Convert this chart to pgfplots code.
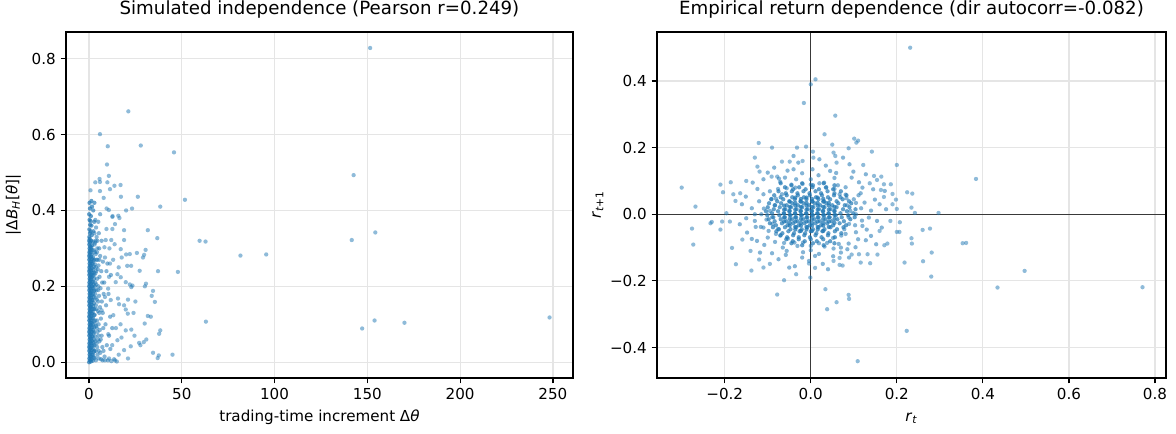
\documentclass[border=0pt]{standalone}
\usepackage{fontspec}
\setmainfont{DejaVu Sans}
\usepackage{pgfplots}
\pgfplotsset{compat=1.18}
\definecolor{c1}{HTML}{1F77B4}
\pgfplotsset{
  common/.style={
    scale only axis, height=249.1pt,
    axis line style={black, line width=0.87pt},
    tick align=outside, major tick length=3.8pt,
    tick style={black, line width=0.87pt},
    xtick pos=bottom, ytick pos=left,
    grid=major, major grid style={color=black!10, line width=0.87pt},
    ticklabel style={font=\fontsize{10.9}{13}\selectfont},
    label style={font=\fontsize{10.9}{13}\selectfont},
    title style={font=\fontsize{13.1}{15}\selectfont, at={(0.5,1.0263)}, anchor=base},
    xlabel style={at={(axis description cs:0.5,-0.1257)}, anchor=base},
    /pgf/number format/assume math mode=true,
  },
  dots/.style={only marks, mark=*, mark size=1.55pt,
    mark options={fill=c1, draw=c1, fill opacity=#1, draw opacity=0, line width=0pt}},
  dots/.default=0.5,
}
\begin{document}
\begin{tikzpicture}
\path[use as bounding box] (0pt,0pt) rectangle (846.72pt,311.76pt);
% ---------------- left panel
\begin{axis}[common, at={(47.52pt,39.6pt)}, anchor=south west, width=365pt,
  xmin=-12.4, xmax=260.8, ymin=-0.0415, ymax=0.870,
  xtick={0,50,100,150,200,250}, xticklabels={0,50,100,150,200,250},
  ytick={0,0.2,0.4,0.6,0.8}, yticklabels={0.0,0.2,0.4,0.6,0.8},
  title={Simulated independence (Pearson r=0.249)},
  xlabel={trading-time increment Δ\textit{θ}},
  ylabel={|Δ\textit{B}\textsubscript{\textit{H}}[\textit{θ}]|},
  ylabel style={at={(axis description cs:-0.096,0.5)}, anchor=base},
]
% dense column 1
\addplot[dots=0.7] coordinates {
(0.1,0.000)(0.4,0.005)(0.2,0.010)(0.5,0.015)(0.3,0.020)(0.6,0.025)(0.15,0.030)(0.45,0.035)
(0.1,0.040)(0.4,0.045)(0.2,0.050)(0.5,0.055)(0.3,0.060)(0.6,0.065)(0.15,0.070)(0.45,0.075)
(0.1,0.080)(0.4,0.085)(0.2,0.090)(0.5,0.095)(0.3,0.100)(0.6,0.105)(0.15,0.110)(0.45,0.115)
(0.1,0.120)(0.4,0.125)(0.2,0.130)(0.5,0.135)(0.3,0.140)(0.6,0.145)(0.15,0.150)(0.45,0.155)
(0.1,0.160)(0.4,0.165)(0.2,0.170)(0.5,0.175)(0.3,0.180)(0.6,0.185)(0.15,0.190)(0.45,0.195)
(0.1,0.200)(0.4,0.205)(0.2,0.210)(0.5,0.215)(0.3,0.220)(0.6,0.225)(0.15,0.230)(0.45,0.235)
(0.1,0.240)(0.4,0.245)(0.2,0.250)(0.5,0.255)(0.3,0.260)(0.6,0.265)(0.15,0.270)(0.45,0.275)
(0.1,0.280)(0.4,0.285)(0.2,0.290)(0.5,0.295)(0.3,0.300)(0.6,0.305)(0.15,0.310)(0.45,0.315)
(0.1,0.320)(0.4,0.325)(0.2,0.330)(0.5,0.340)(0.2,0.350)(0.6,0.362)(0.3,0.375)(0.1,0.390)
(0.5,0.405)(0.3,0.420)(0.8,0.372)(0.9,0.345)
};
% dense column 2
\addplot[dots=0.7] coordinates {
(1.0,0.002)(1.4,0.008)(1.2,0.014)(1.6,0.020)(1.1,0.026)(1.5,0.032)(1.0,0.038)(1.4,0.044)
(1.2,0.050)(1.6,0.056)(1.1,0.062)(1.5,0.068)(1.0,0.074)(1.4,0.080)(1.2,0.086)(1.6,0.092)
(1.1,0.098)(1.5,0.104)(1.0,0.110)(1.4,0.116)(1.2,0.122)(1.6,0.128)(1.1,0.134)(1.5,0.140)
(1.0,0.146)(1.4,0.152)(1.2,0.158)(1.6,0.164)(1.1,0.170)(1.5,0.176)(1.0,0.182)(1.4,0.188)
(1.2,0.194)(1.6,0.200)(1.1,0.206)(1.5,0.212)(1.0,0.218)(1.4,0.224)(1.2,0.230)(1.6,0.236)
(1.1,0.242)(1.5,0.248)(1.0,0.254)(1.4,0.260)(1.2,0.266)(1.6,0.272)(1.1,0.278)(1.5,0.284)
(1.0,0.290)(1.4,0.296)(1.2,0.302)(1.6,0.308)(1.1,0.320)(1.5,0.335)(1.3,0.360)(1.0,0.385)
(1.6,0.410)(1.3,0.425)
};
% dense column 3
\addplot[dots=0.65] coordinates {
(2.0,0.004)(2.5,0.012)(2.2,0.020)(2.7,0.028)(2.0,0.036)(2.5,0.044)(2.2,0.052)(2.7,0.060)
(2.0,0.068)(2.5,0.076)(2.2,0.084)(2.7,0.092)(2.0,0.100)(2.5,0.108)(2.2,0.116)(2.7,0.124)
(2.0,0.132)(2.5,0.140)(2.2,0.148)(2.7,0.156)(2.0,0.164)(2.5,0.172)(2.2,0.180)(2.7,0.188)
(2.0,0.196)(2.5,0.204)(2.2,0.212)(2.7,0.220)(2.0,0.228)(2.5,0.236)(2.2,0.244)(2.7,0.252)
(2.0,0.260)(2.5,0.268)(2.2,0.276)(2.6,0.295)(2.1,0.318)(2.4,0.345)(2.8,0.370)(2.3,0.400)
(2.9,0.420)
};
% x from 3 to 12
\addplot[dots=0.55] coordinates {
(3.2,0.012)(3.6,0.030)(4.1,0.050)(3.4,0.068)(4.6,0.080)(3.8,0.095)(4.3,0.110)(3.1,0.125)
(4.8,0.135)(3.7,0.150)(4.2,0.165)(3.3,0.180)(4.9,0.190)(3.9,0.205)(4.4,0.220)(3.5,0.235)
(4.7,0.245)(3.2,0.258)(4.0,0.270)(3.6,0.285)(4.5,0.300)(3.3,0.315)(4.1,0.330)(3.8,0.355)
(3.4,0.375)(4.6,0.020)(3.0,0.045)(4.8,0.060)(3.5,0.100)(4.9,0.160)(3.1,0.200)(4.6,0.270)
(3.9,0.140)(4.4,0.040)(3.7,0.005)
(2.9,0.030)(3.5,0.055)(2.8,0.080)(3.3,0.110)(2.9,0.140)(3.6,0.170)(2.8,0.190)(3.4,0.210)
(2.9,0.230)(3.7,0.250)(2.8,0.270)(3.2,0.290)(3.0,0.310)(2.9,0.340)(5.2,0.030)(5.5,0.130)
(5.0,0.200)(5.6,0.270)(5.1,0.070)(4.2,0.090)(4.0,0.190)(4.3,0.290)(4.5,0.320)(3.6,0.320)
(3.9,0.240)
(5.3,0.010)(6.1,0.025)(7.2,0.040)(5.6,0.055)(6.8,0.070)(7.7,0.090)(5.2,0.100)(6.4,0.115)
(7.4,0.130)(5.9,0.145)(6.9,0.160)(5.4,0.175)(7.9,0.180)(6.2,0.195)(7.1,0.210)(5.7,0.225)
(6.6,0.240)(5.1,0.255)(7.5,0.265)(6.0,0.280)(5.5,0.300)(6.8,0.320)(5.3,0.340)(7.3,0.005)
(6.5,0.008)(5.8,0.085)(7.8,0.030)(6.3,0.060)(5.0,0.370)(6.0,0.390)
(8.4,0.015)(9.6,0.045)(10.8,0.070)(8.9,0.100)(11.4,0.120)(9.2,0.150)(10.5,0.180)(8.2,0.210)
(11.8,0.230)(9.9,0.260)(8.6,0.005)(10.2,0.005)(11.5,0.035)(9.4,0.240)(12.5,0.090)
};
% mid region and outliers
\addplot[dots] coordinates {
(151.5,0.828)(21.2,0.661)(5.9,0.601)(10.1,0.569)(27.9,0.571)(45.8,0.553)(9.7,0.521)(10.7,0.491)
(142.6,0.493)(0.8,0.453)(3.4,0.474)(5.9,0.475)(5.7,0.483)(9.9,0.474)(13.7,0.465)(17.0,0.467)
(11.3,0.456)(5.9,0.451)(26.3,0.436)(17.2,0.436)(7.9,0.433)(51.7,0.428)(38.4,0.410)(23.2,0.405)
(20.0,0.400)(9.5,0.405)(10.7,0.401)(12.7,0.385)(16.4,0.380)(31.7,0.348)(154.3,0.342)(141.6,0.322)
(59.6,0.320)(62.8,0.318)(36.8,0.327)(81.6,0.281)(95.5,0.284)(47.9,0.238)(37.2,0.240)(34.5,0.188)
(33.8,0.175)(35.5,0.159)(31.7,0.122)(33.3,0.120)(63.0,0.107)(153.9,0.110)(170.0,0.104)(248.2,0.118)
(147.2,0.089)(38.4,0.084)(37.8,0.075)(30.9,0.060)(37.6,0.018)(37.0,0.011)(45.0,0.020)(34.5,0.025)
(29.5,0.053)(27.7,0.045)(30.5,0.296)(29.7,0.283)(29.1,0.276)(25.8,0.288)(22.0,0.285)(27.3,0.241)
(20.6,0.254)(22.0,0.205)(23.4,0.202)(30.7,0.207)(30.1,0.200)
(12.6,0.383)(15.8,0.386)(14.0,0.364)(9.4,0.351)(12.6,0.351)(18.9,0.348)(9.0,0.322)(12.0,0.322)
(18.9,0.322)(13.8,0.311)(17.1,0.298)(20.0,0.284)(17.6,0.276)(8.3,0.303)(8.6,0.276)(11.3,0.260)
(22.7,0.254)(10.8,0.225)(15.3,0.232)(17.1,0.224)(14.4,0.211)(19.8,0.211)(22.8,0.198)(10.3,0.194)
(8.6,0.172)(11.7,0.164)(15.6,0.168)(16.2,0.153)(18.9,0.150)(19.8,0.139)(20.9,0.128)(6.8,0.137)
(13.1,0.124)(30.0,0.102)(19.8,0.084)(22.8,0.086)(10.4,0.074)(15.3,0.058)(18.9,0.032)(22.5,0.042)
(27.0,0.051)(21.0,0.010)(14.0,0.005)(10.8,0.010)(24.5,0.070)(17.0,0.100)(14.5,0.090)(25.0,0.160)
(12.5,0.045)(16.0,0.020)(13.5,0.008)(15.0,0.002)(12.0,0.003)(17.5,0.065)(21.0,0.165)(24.0,0.130)
(13.0,0.270)(16.0,0.250)(11.0,0.300)
};
\end{axis}
% ---------------- right panel
\begin{axis}[common, at={(473.0pt,39.6pt)}, anchor=south west, width=366.5pt,
  xmin=-0.3575, xmax=0.8255, ymin=-0.4915, ymax=0.547,
  xtick={-0.2,0,0.2,0.4,0.6,0.8}, xticklabels={−0.2,0.0,0.2,0.4,0.6,0.8},
  ytick={-0.4,-0.2,0,0.2,0.4}, yticklabels={−0.4,−0.2,0.0,0.2,0.4},
  title={Empirical return dependence (dir autocorr=-0.082)},
  xlabel={\textit{r}\textsubscript{\textit{t}}},
  ylabel={\textit{r}\textsubscript{\textit{t}+1}},
  ylabel style={at={(axis description cs:-0.11,0.5)}, anchor=base},
]
% main lattice of the core
\addplot[dots=0.7] coordinates {
(-0.07,0.093)(-0.045,0.087)(-0.02,0.093)(0.005,0.087)(0.03,0.093)(0.055,0.087)
(-0.06,0.081)(-0.041,0.075)(-0.027,0.081)(-0.012,0.075)(0.004,0.081)(0.019,0.075)(0.036,0.081)(0.052,0.075)
(-0.075,0.069)(-0.058,0.063)(-0.044,0.069)(-0.031,0.063)(-0.017,0.069)(-0.003,0.063)(0.011,0.069)(0.024,0.063)(0.039,0.069)(0.055,0.063)(0.07,0.069)
(-0.085,0.057)(-0.07,0.051)(-0.056,0.057)(-0.043,0.051)(-0.03,0.057)(-0.016,0.051)(-0.002,0.057)(0.012,0.051)(0.026,0.057)(0.04,0.051)(0.054,0.057)(0.069,0.051)(0.083,0.057)
(-0.092,0.045)(-0.078,0.039)(-0.064,0.045)(-0.05,0.039)(-0.037,0.045)(-0.024,0.039)(-0.01,0.045)(0.004,0.039)(0.018,0.045)(0.031,0.039)(0.045,0.045)(0.06,0.039)(0.074,0.045)(0.089,0.039)
(-0.097,0.033)(-0.083,0.027)(-0.069,0.033)(-0.056,0.027)(-0.043,0.033)(-0.03,0.027)(-0.017,0.033)(-0.004,0.027)(0.009,0.033)(0.022,0.027)(0.036,0.033)(0.05,0.027)(0.064,0.033)(0.079,0.027)(0.094,0.033)
(-0.1,0.021)(-0.086,0.015)(-0.072,0.021)(-0.059,0.015)(-0.046,0.021)(-0.033,0.015)(-0.02,0.021)(-0.007,0.015)(0.006,0.021)(0.019,0.015)(0.032,0.021)(0.046,0.015)(0.06,0.021)(0.075,0.015)(0.09,0.021)(0.104,0.015)
(-0.104,0.009)(-0.09,0.003)(-0.076,0.009)(-0.063,0.003)(-0.05,0.009)(-0.037,0.003)(-0.024,0.009)(-0.011,0.003)(0.002,0.009)(0.015,0.003)(0.028,0.009)(0.041,0.003)(0.055,0.009)(0.069,0.003)(0.084,0.009)(0.099,0.003)
(-0.101,-0.003)(-0.087,-0.009)(-0.073,-0.003)(-0.06,-0.009)(-0.047,-0.003)(-0.034,-0.009)(-0.021,-0.003)(-0.008,-0.009)(0.005,-0.003)(0.018,-0.009)(0.031,-0.003)(0.044,-0.009)(0.058,-0.003)(0.072,-0.009)(0.087,-0.003)(0.102,-0.009)
(-0.098,-0.015)(-0.084,-0.021)(-0.07,-0.015)(-0.057,-0.021)(-0.044,-0.015)(-0.031,-0.021)(-0.018,-0.015)(-0.005,-0.021)(0.008,-0.015)(0.021,-0.021)(0.034,-0.015)(0.048,-0.021)(0.062,-0.015)(0.077,-0.021)(0.092,-0.015)
(-0.095,-0.027)(-0.081,-0.033)(-0.067,-0.027)(-0.054,-0.033)(-0.041,-0.027)(-0.028,-0.033)(-0.015,-0.027)(-0.002,-0.033)(0.011,-0.027)(0.024,-0.033)(0.038,-0.027)(0.052,-0.033)(0.067,-0.027)(0.082,-0.033)
(-0.088,-0.039)(-0.074,-0.045)(-0.06,-0.039)(-0.047,-0.045)(-0.034,-0.039)(-0.021,-0.045)(-0.008,-0.039)(0.005,-0.045)(0.018,-0.039)(0.032,-0.045)(0.046,-0.039)(0.061,-0.045)(0.076,-0.039)
(-0.08,-0.051)(-0.066,-0.057)(-0.052,-0.051)(-0.039,-0.057)(-0.026,-0.051)(-0.013,-0.057)(0.0,-0.051)(0.013,-0.057)(0.027,-0.051)(0.041,-0.057)(0.056,-0.051)(0.071,-0.057)
(-0.07,-0.063)(-0.055,-0.069)(-0.041,-0.063)(-0.028,-0.069)(-0.015,-0.063)(-0.002,-0.069)(0.011,-0.063)(0.025,-0.069)(0.04,-0.063)(0.056,-0.069)
(-0.057,-0.075)(-0.042,-0.081)(-0.028,-0.075)(-0.014,-0.081)(0.0,-0.075)(0.014,-0.081)(0.029,-0.075)(0.045,-0.081)
(-0.045,-0.087)(-0.02,-0.093)(0.005,-0.087)(0.03,-0.093)(0.055,-0.087)
};
% inner lattice
\addplot[dots=0.75] coordinates {
(-0.036,0.050)(-0.023,0.046)(-0.010,0.050)(0.003,0.046)(0.016,0.050)(0.029,0.046)
(-0.049,0.038)(-0.036,0.034)(-0.023,0.038)(-0.010,0.034)(0.003,0.038)(0.016,0.034)(0.029,0.038)(0.042,0.034)
(-0.062,0.026)(-0.049,0.022)(-0.036,0.026)(-0.023,0.022)(-0.010,0.026)(0.003,0.022)(0.016,0.026)(0.029,0.022)(0.042,0.026)(0.055,0.022)
(-0.062,0.014)(-0.049,0.010)(-0.036,0.014)(-0.023,0.010)(-0.010,0.014)(0.003,0.010)(0.016,0.014)(0.029,0.010)(0.042,0.014)(0.055,0.010)
(-0.062,0.002)(-0.049,-0.002)(-0.036,0.002)(-0.023,-0.002)(-0.010,0.002)(0.003,-0.002)(0.016,0.002)(0.029,-0.002)(0.042,0.002)(0.055,-0.002)
(-0.062,-0.010)(-0.049,-0.014)(-0.036,-0.010)(-0.023,-0.014)(-0.010,-0.010)(0.003,-0.014)(0.016,-0.010)(0.029,-0.014)(0.042,-0.010)(0.055,-0.014)
(-0.062,-0.022)(-0.049,-0.026)(-0.036,-0.022)(-0.023,-0.026)(-0.010,-0.022)(0.003,-0.026)(0.016,-0.022)(0.029,-0.026)(0.042,-0.022)(0.055,-0.026)
(-0.049,-0.034)(-0.036,-0.038)(-0.023,-0.034)(-0.010,-0.038)(0.003,-0.034)(0.016,-0.038)(0.029,-0.034)(0.042,-0.038)
(-0.036,-0.046)(-0.023,-0.050)(-0.010,-0.046)(0.003,-0.050)(0.016,-0.046)(0.029,-0.050)
};
% rings
\addplot[dots=0.55] coordinates {
(0.092,0.01)(0.084,0.027)(0.083,0.048)(0.067,0.06)(0.055,0.076)(0.035,0.08)(0.02,0.093)(0.0,0.089)
(-0.019,0.091)(-0.036,0.08)(-0.056,0.078)(-0.067,0.06)(-0.081,0.047)(-0.084,0.027)(-0.095,0.01)(-0.09,-0.009)
(-0.089,-0.029)(-0.076,-0.044)(-0.071,-0.064)(-0.053,-0.073)(-0.038,-0.085)(-0.018,-0.085)(0.0,-0.095)(0.019,-0.087)
(0.038,-0.086)(0.052,-0.071)(0.071,-0.064)(0.078,-0.045)(0.089,-0.029)(0.088,-0.009)
(0.105,0.000)(0.117,0.018)(0.105,0.034)(0.111,0.057)(0.081,0.059)(0.081,0.081)(0.063,0.087)(0.055,0.109)
(0.031,0.095)(0.018,0.117)(0.0,0.105)(-0.02,0.123)(-0.034,0.105)(-0.045,0.089)(-0.071,0.097)(-0.076,0.076)
(-0.095,0.069)(-0.091,0.046)(-0.12,0.039)(-0.109,0.017)(-0.115,0.0)(-0.103,-0.016)(-0.116,-0.038)(-0.098,-0.05)
(-0.081,-0.059)(-0.083,-0.083)(-0.062,-0.086)(-0.056,-0.11)(-0.031,-0.095)(-0.018,-0.114)(0.0,-0.108)(0.019,-0.119)
(0.032,-0.097)(0.053,-0.103)(0.065,-0.089)(0.088,-0.088)(0.081,-0.059)(0.105,-0.054)(0.103,-0.033)(0.119,-0.019)
(0.14,0.011)(0.149,0.044)(0.116,0.063)(0.112,0.096)(0.099,0.128)(0.059,0.124)(0.035,0.146)(0.004,0.135)
(-0.029,0.155)(-0.054,0.131)(-0.074,0.107)(-0.11,0.105)(-0.124,0.076)(-0.151,0.053)(-0.137,0.018)(-0.15,-0.012)
(-0.128,-0.038)(-0.137,-0.074)(-0.108,-0.092)(-0.09,-0.117)(-0.058,-0.122)(-0.037,-0.156)(-0.004,-0.14)(0.028,-0.149)
(0.052,-0.126)(0.089,-0.13)(0.104,-0.099)(0.128,-0.078)(0.13,-0.046)(0.154,-0.02)
(0.125,0.035)(0.135,-0.01)(0.145,0.075)(0.128,0.12)(0.09,0.15)(0.075,0.17)(0.02,0.165)(-0.04,0.175)
(-0.085,0.14)(-0.1,0.125)(-0.135,0.095)(-0.16,0.03)(-0.165,-0.03)(-0.148,-0.055)(-0.125,-0.08)(-0.118,-0.115)
(-0.075,-0.135)(-0.05,-0.16)(-0.02,-0.13)(0.01,-0.125)(0.04,-0.165)(0.07,-0.115)(0.085,-0.105)(0.11,-0.075)
(0.14,-0.065)(0.152,-0.09)(0.165,-0.04)(0.175,0.015)(0.16,0.03)(0.172,0.07)(0.12,0.08)(0.095,0.11)
(-0.06,0.11)(-0.11,0.06)(-0.13,0.0)(-0.13,-0.02)(-0.11,-0.04)(0.12,-0.035)(0.1,0.045)(-0.04,0.135)
(0.045,0.13)(-0.1,-0.07)(0.07,-0.1)(-0.065,-0.1)
};
% outer points
\addplot[dots] coordinates {
(0.231,0.5)(0.011,0.405)(0.0,0.39)(-0.016,0.334)(0.057,0.296)(0.032,0.24)(-0.121,0.214)(0.101,0.227)
(0.11,0.221)(0.106,0.215)(0.05,0.209)(-0.011,0.203)(-0.032,0.2)(0.088,0.198)(0.142,0.188)(0.053,0.185)
(0.057,0.175)(0.005,0.188)(0.006,0.17)(-0.067,0.158)(-0.049,0.158)(-0.019,0.16)(0.122,0.148)(0.2,0.148)
(0.06,0.155)(-0.124,0.143)(-0.119,0.128)(0.384,0.106)(-0.3,0.08)(-0.268,0.023)(-0.276,-0.043)(-0.273,-0.091)
(-0.233,-0.027)(-0.23,-0.023)(-0.21,0.089)(-0.186,0.096)(-0.204,0.066)(-0.164,0.063)(-0.21,-0.046)(-0.206,-0.022)
(-0.188,-0.022)(-0.196,0.003)(-0.183,-0.101)(-0.174,-0.15)(-0.138,-0.169)(-0.159,-0.076)(-0.12,-0.136)(-0.095,-0.149)
(-0.078,-0.241)(-0.062,-0.198)(-0.034,-0.18)(-0.004,-0.148)(0.01,-0.161)(-0.001,-0.19)(0.034,-0.225)(0.06,-0.264)
(0.038,-0.285)(0.088,-0.242)(0.089,-0.254)(0.067,-0.152)(0.067,-0.131)(0.095,-0.121)(0.116,-0.145)(0.138,-0.147)
(0.155,-0.121)(0.171,-0.093)(0.178,-0.088)(0.218,-0.145)(0.261,-0.141)(0.234,-0.072)(0.235,-0.088)(0.26,-0.047)
(0.277,-0.043)(0.281,-0.115)(0.28,-0.187)(0.109,-0.441)(0.223,-0.35)(0.297,0.004)(0.242,0.004)(0.234,0.02)
(0.236,0.062)(0.224,0.066)(0.2,0.016)(0.198,0.044)(0.19,0.061)(0.186,0.09)(0.17,0.052)(0.164,0.113)
(0.154,0.103)(0.353,-0.087)(0.361,-0.086)(0.434,-0.22)(0.497,-0.17)(0.771,-0.219)(0.207,-0.024)(0.206,-0.053)
(0.132,-0.12)(0.112,-0.12)(0.074,-0.154)(0.053,-0.14)(-0.15,0.1)(-0.175,0.04)(-0.14,-0.11)(-0.11,-0.16)
(0.17,0.09)(0.19,0.03)(0.16,-0.05)(0.185,-0.02)(-0.18,0.06)(-0.13,0.17)(-0.09,0.2)
(-0.091,0.113)(-0.078,0.113)(0.147,0.115)(0.137,0.093)(0.163,0.073)(0.2,-0.053)
};
\addplot[black, opacity=0.75, line width=0.65pt] coordinates {(-0.3575,0) (0.8255,0)};
\addplot[black, opacity=0.75, line width=0.65pt] coordinates {(0,-0.4915) (0,0.547)};
\end{axis}
\end{tikzpicture}
\end{document}
